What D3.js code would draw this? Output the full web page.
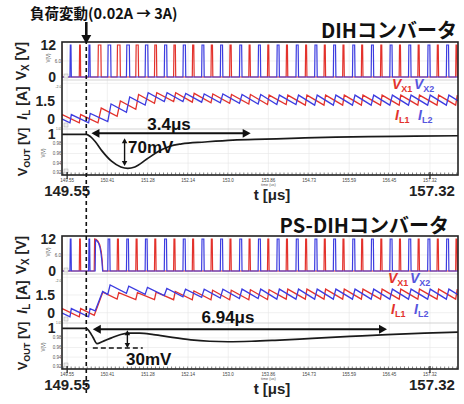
<!DOCTYPE html>
<html>
<head>
<meta charset="utf-8">
<script src="https://cdn.jsdelivr.net/npm/d3@7"></script>
<style>
  body { margin: 0; background: #fff; }
  text { font-family: "Liberation Sans", Arial, sans-serif; }
  .jp { font-family: "Noto Sans CJK JP", "Liberation Sans", sans-serif; }
</style>
</head>
<body>
<div id="container"></div>
<script>
const titles = ["DIHコンバータ", "PS-DIHコンバータ"];
const timeTicks = [149.55, 150.41, 151.28, 152.14, 153.0, 153.86, 154.73, 155.59, 156.45, 157.32];
const timeTickLabels = ["149.55", "150.41", "151.28", "152.14", "153.0", "153.86", "154.73", "155.59", "156.45", "157.32"];
const bigTimeTicks = [149.55, 157.32];
const loadStepT = 149.96;

// DIH, phase 1 (red) / phase 2 (blue): turn-on time, on-time, iL at turn-on, iL at turn-off
const dihRedOn = [149.41, 149.81, 150.21, 150.62, 151.02, 151.42, 151.83, 152.23, 152.63, 153.03, 153.44, 153.84, 154.24, 154.65, 155.05, 155.45, 155.85, 156.26, 156.66, 157.06, 157.47, 157.87];
const dihRedW  = [0.03, 0.03, 0.07, 0.07, 0.06, 0.05, 0.045, 0.04, 0.04, 0.04, 0.035, 0.035, 0.035, 0.035, 0.035, 0.035, 0.035, 0.035, 0.035, 0.035, 0.035, 0.035];
const dihRedLo = [-0.35, -0.35, -0.35, 0.2, 0.8, 1.3, 1.45, 1.4, 1.35, 1.3, 1.25, 1.2, 1.2, 1.15, 1.15, 1.15, 1.15, 1.15, 1.15, 1.15, 1.15, 1.15];
const dihRedHi = [0.35, 0.35, 0.9, 1.5, 2.05, 2.2, 2.2, 2.15, 2.1, 2.05, 2.05, 2.0, 2.0, 2.0, 2.0, 2.0, 2.0, 2.0, 2.0, 2.0, 2.0, 2.0];

const dihBlueOn = [149.21, 149.61, 150.01, 150.42, 150.82, 151.22, 151.63, 152.03, 152.43, 152.83, 153.24, 153.64, 154.04, 154.45, 154.85, 155.25, 155.66, 156.06, 156.46, 156.86, 157.27, 157.67, 158.07];
const dihBlueW  = [0.03, 0.03, 0.035, 0.07, 0.07, 0.065, 0.06, 0.06, 0.055, 0.055, 0.055, 0.055, 0.055, 0.055, 0.055, 0.055, 0.055, 0.055, 0.055, 0.055, 0.055, 0.055, 0.055];
const dihBlueLo = [-0.35, -0.35, -0.35, -0.25, 0.55, 1.15, 1.45, 1.45, 1.4, 1.35, 1.3, 1.25, 1.2, 1.2, 1.15, 1.15, 1.15, 1.15, 1.15, 1.15, 1.15, 1.15, 1.15];
const dihBlueHi = [0.35, 0.35, 0.45, 1.25, 1.85, 2.2, 2.2, 2.15, 2.1, 2.1, 2.05, 2.05, 2.0, 2.0, 2.0, 2.0, 2.0, 2.0, 2.0, 2.0, 2.0, 2.0, 2.0];

const dihVoutT = [149.44, 149.96, 150.05, 150.15, 150.3, 150.5, 150.7, 150.85, 151.0, 151.25, 151.5, 151.75, 152.0, 152.5, 153.1, 153.8, 154.5, 155.3, 156.0, 157.0, 157.92];
const dihVoutV = [1.0, 1.0, 0.995, 0.985, 0.965, 0.944, 0.932, 0.929, 0.932, 0.948, 0.964, 0.975, 0.98, 0.984, 0.988, 0.99, 0.992, 0.994, 0.995, 0.996, 0.997];

// PS-DIH
const psRedOn = [149.41, 149.81, 150.13, 150.62, 151.02, 151.42, 151.83, 152.23, 152.63, 153.03, 153.44, 153.84, 154.24, 154.65, 155.05, 155.45, 155.85, 156.26, 156.66, 157.06, 157.47, 157.87];
const psRedW  = [0.03, 0.03, 0.185, 0.035, 0.035, 0.035, 0.035, 0.035, 0.035, 0.035, 0.035, 0.035, 0.035, 0.035, 0.035, 0.035, 0.035, 0.035, 0.035, 0.035, 0.035, 0.035];
const psRedLo = [-0.35, -0.35, -0.22, 1.15, 1.1, 1.1, 1.1, 1.1, 1.1, 1.1, 1.1, 1.12, 1.15, 1.15, 1.15, 1.15, 1.15, 1.15, 1.15, 1.15, 1.15, 1.15];
const psRedHi = [0.35, 0.35, 1.75, 1.7, 1.7, 1.75, 1.8, 1.85, 1.9, 1.9, 1.95, 1.95, 2.0, 2.0, 2.0, 2.0, 2.0, 2.0, 2.0, 2.0, 2.0, 2.0];

const psBlueOn = [149.21, 149.61, 150.01, 150.15, 150.42, 150.82, 151.22, 151.63, 152.03, 152.43, 152.83, 153.24, 153.64, 154.04, 154.45, 154.85, 155.25, 155.66, 156.06, 156.46, 156.86, 157.27, 157.67, 158.07];
const psBlueW  = [0.03, 0.03, 0.03, 0.16, 0.05, 0.05, 0.05, 0.055, 0.055, 0.055, 0.055, 0.055, 0.055, 0.055, 0.055, 0.055, 0.055, 0.055, 0.055, 0.055, 0.055, 0.055, 0.055, 0.055];
const psBlueLo = [-0.35, -0.35, -0.35, 0.15, 1.55, 1.65, 1.55, 1.45, 1.35, 1.3, 1.25, 1.2, 1.2, 1.15, 1.15, 1.15, 1.15, 1.15, 1.15, 1.15, 1.15, 1.15, 1.15, 1.15];
const psBlueHi = [0.35, 0.35, 0.35, 1.8, 2.35, 2.25, 2.15, 2.05, 2.0, 2.0, 2.0, 2.0, 2.0, 2.0, 2.0, 2.0, 2.0, 2.0, 2.0, 2.0, 2.0, 2.0, 2.0, 2.0];

// the wide, drooping simultaneous pulse right after the load step
const psWideRedT  = [150.13, 150.138, 150.17, 150.21, 150.25, 150.28, 150.30, 150.315];
const psWideRedV  = [0, 12, 11.9, 11.2, 9.8, 7.4, 4.2, 0];
const psWideBlueT = [150.15, 150.158, 150.18, 150.22, 150.25, 150.275, 150.295, 150.31];
const psWideBlueV = [0, 11.6, 11.4, 10.6, 9.0, 6.6, 3.6, 0];

const psVoutT = [149.44, 149.96, 150.03, 150.1, 150.19, 150.3, 150.5, 150.7, 150.9, 151.1, 151.4, 151.8, 152.2, 152.6, 153.0, 153.5, 154.0, 154.8, 155.6, 156.4, 157.2, 157.92];
const psVoutV = [1.0, 1.0, 0.993, 0.982, 0.968, 0.972, 0.98, 0.987, 0.99, 0.99, 0.987, 0.981, 0.976, 0.973, 0.972, 0.973, 0.975, 0.979, 0.983, 0.987, 0.99, 0.992];

// annotations
const spanLabels = ["3.4μs", "6.94μs"];
const spanFrom = [150.07, 150.1];
const spanTo = [153.48, 156.4];
const spanV = [1.002, 0.998];
const dipLabels = ["70mV", "30mV"];
const dipT = [150.78, 150.84];
const dipTop = [0.992, 0.996];
const dipBottom = [0.934, 0.959];

const vxTicks = [12, 0];
const ilTicks = [1.5, 0];
const voutMinor = [1.01, 0.98, 0.96, 0.94, 0.92];

// ---- layout ----
const red = "#e3322c", blue = "#3c3ce0";
const tMin = 149.44, tMax = 157.92;
const panelOffset = [0, 194];
const frame = { left: 62, right: 458, top: 42, bottom: 175 };

const x = d3.scaleLinear().domain([tMin, tMax]).range([frame.left, frame.right]);
const yVx = d3.scaleLinear().domain([0, 12]).range([77, 45]);
const yIL = d3.scaleLinear().domain([0, 1.5]).range([118.7, 101]);
const yVo = d3.scaleLinear().domain([0.92, 1.0]).range([172.7, 134.3]);

const svg = d3.select("#container")
    .append("svg")
    .attr("width", 464)
    .attr("height", 404);

const defs = svg.append("defs");
defs.append("clipPath").attr("id", "clipFrame")
    .append("rect")
    .attr("x", frame.left).attr("y", frame.top)
    .attr("width", frame.right - frame.left).attr("height", frame.bottom - frame.top);

function vxPoints(on, w, wideT, wideV) {
    const pts = [[tMin - 1, 0]];
    on.forEach((t, i) => {
        if (w[i] >= 0.1 && wideT) {
            wideT.forEach((tt, j) => pts.push([tt, wideV[j]]));
        } else {
            pts.push([t, 0], [t + 0.008, 12], [t + w[i] - 0.008, 12], [t + w[i], 0]);
        }
    });
    pts.push([tMax + 1, 0]);
    return pts;
}

function ilPoints(on, w, lo, hi) {
    return on.flatMap((t, i) => [[t, lo[i]], [t + w[i], hi[i]]]);
}

const lineVx = d3.line().x(d => x(d[0])).y(d => yVx(d[1]));
const lineIL = d3.line().x(d => x(d[0])).y(d => yIL(d[1]));
const lineVo = d3.line().x(d => x(d[0])).y(d => yVo(d[1])).curve(d3.curveMonotoneX);

function arrowHead(g, x0, y0, dir, size) {
    // dir: "l", "r", "u", "d"
    const s = size, h = size * 0.55;
    let p;
    if (dir === "l") p = [[x0, y0], [x0 + s, y0 - h], [x0 + s, y0 + h]];
    if (dir === "r") p = [[x0, y0], [x0 - s, y0 - h], [x0 - s, y0 + h]];
    if (dir === "u") p = [[x0, y0], [x0 - h, y0 + s], [x0 + h, y0 + s]];
    if (dir === "d") p = [[x0, y0], [x0 - h, y0 - s], [x0 + h, y0 - s]];
    g.append("path").attr("d", "M" + p.join("L") + "Z").attr("fill", "#111");
}

function drawPanel(k, d) {
    const g = svg.append("g").attr("transform", `translate(0, ${panelOffset[k]})`);

    // grid
    const grid = g.append("g").attr("stroke", "#e6e6e6").attr("stroke-width", 0.6);
    timeTicks.forEach(t => grid.append("line")
        .attr("x1", x(t)).attr("x2", x(t)).attr("y1", frame.top).attr("y2", frame.bottom));
    [6].forEach(v => grid.append("line").attr("x1", frame.left).attr("x2", frame.right)
        .attr("y1", yVx(v)).attr("y2", yVx(v)));
    [3, 1.5, 0].forEach(v => grid.append("line").attr("x1", frame.left).attr("x2", frame.right)
        .attr("y1", yIL(v)).attr("y2", yIL(v)));
    [0.98, 0.96, 0.94].forEach(v => grid.append("line").attr("x1", frame.left).attr("x2", frame.right)
        .attr("y1", yVo(v)).attr("y2", yVo(v)));
    // sub-plot separators
    [80, 129].forEach(yy => g.append("line").attr("x1", frame.left).attr("x2", frame.right)
        .attr("y1", yy).attr("y2", yy).attr("stroke", "#c8c8c8").attr("stroke-width", 0.8));

    const plot = g.append("g").attr("clip-path", "url(#clipFrame)");

    // switching nodes
    plot.append("path").attr("d", lineVx(vxPoints(d.redOn, d.redW, d.wideRedT, d.wideRedV)))
        .attr("fill", "none").attr("stroke", red).attr("stroke-width", 1.2);
    plot.append("path").attr("d", lineVx(vxPoints(d.blueOn, d.blueW, d.wideBlueT, d.wideBlueV)))
        .attr("fill", "none").attr("stroke", blue).attr("stroke-width", 1.2);

    // inductor currents
    plot.append("path").attr("d", lineIL(ilPoints(d.redOn, d.redW, d.redLo, d.redHi)))
        .attr("fill", "none").attr("stroke", red).attr("stroke-width", 1.3);
    plot.append("path").attr("d", lineIL(ilPoints(d.blueOn, d.blueW, d.blueLo, d.blueHi)))
        .attr("fill", "none").attr("stroke", blue).attr("stroke-width", 1.3);

    // output voltage
    plot.append("path").attr("d", lineVo(d.voutT.map((t, i) => [t, d.voutV[i]])))
        .attr("fill", "none").attr("stroke", "#1a1a1a").attr("stroke-width", 1.7);

    // little scope markers
    [80, 129, 175].forEach(yy => g.append("rect")
        .attr("x", frame.left + 2).attr("y", yy - 6).attr("width", 4).attr("height", 4)
        .attr("fill", "#eee").attr("stroke", "#aaa").attr("stroke-width", 0.5));

    // frame
    g.append("rect")
        .attr("x", frame.left).attr("y", frame.top)
        .attr("width", frame.right - frame.left).attr("height", frame.bottom - frame.top)
        .attr("fill", "none").attr("stroke", "#222").attr("stroke-width", 1.6);

    // minor ticks along the time axis
    const step = (timeTicks[1] - timeTicks[0]) / 10;
    d3.range(timeTicks[0] - step, tMax, step).forEach(t => {
        if (x(t) > frame.left + 1 && x(t) < frame.right - 1)
            g.append("line").attr("x1", x(t)).attr("x2", x(t))
                .attr("y1", frame.bottom - 2.5).attr("y2", frame.bottom)
                .attr("stroke", "#333").attr("stroke-width", 0.6);
    });
    // tiny scope tick labels
    timeTicks.forEach((t, i) => g.append("text")
        .attr("x", x(t)).attr("y", frame.bottom + 6.5)
        .attr("text-anchor", "middle").attr("font-size", 4.5).attr("fill", "#444")
        .text(timeTickLabels[i]));
    g.append("text").attr("x", x(153.86)).attr("y", frame.bottom + 10.5)
        .attr("text-anchor", "middle").attr("font-size", 3.8).attr("fill", "#555").text("time (us)");

    // big time labels
    bigTimeTicks.forEach(t => {
        g.append("line").attr("x1", x(t)).attr("x2", x(t))
            .attr("y1", frame.bottom - 3).attr("y2", frame.bottom + 4)
            .attr("stroke", "#222").attr("stroke-width", 1.2);
        g.append("text").attr("x", x(t) + (t === bigTimeTicks[1] ? 2 : 0)).attr("y", frame.bottom + 21)
            .attr("text-anchor", "middle").attr("font-size", 15).attr("font-weight", "bold")
            .attr("fill", "#222").text(t.toFixed(2));
    });
    g.append("text").attr("x", 272).attr("y", frame.bottom + 24.5)
        .attr("text-anchor", "middle").attr("font-size", 15).attr("font-weight", "bold")
        .attr("fill", "#222").text("t [μs]");

    // y tick labels (big)
    vxTicks.forEach(v => g.append("text").attr("x", 56).attr("y", yVx(v) + 5)
        .attr("text-anchor", "end").attr("font-size", 14).attr("font-weight", "bold").attr("fill", "#222").text(v));
    ilTicks.forEach(v => g.append("text").attr("x", 55).attr("y", yIL(v) + 5)
        .attr("text-anchor", "end").attr("font-size", 14).attr("font-weight", "bold").attr("fill", "#222").text(v));
    g.append("text").attr("x", 55.5).attr("y", yVo(1.0) + 5)
        .attr("text-anchor", "end").attr("font-size", 14).attr("font-weight", "bold").attr("fill", "#222").text("1");

    // y tick labels (tiny, from the scope)
    g.append("text").attr("x", 61).attr("y", yVx(6) + 1.5)
        .attr("text-anchor", "end").attr("font-size", 4.5).attr("fill", "#555").text("6.0");
    g.append("text").attr("x", 61.5).attr("y", 88)
        .attr("text-anchor", "end").attr("font-size", 3.6).attr("fill", "#555").text("-2.0");
    voutMinor.forEach(v => g.append("text").attr("x", v > 1 ? 62 : 61.5).attr("y", v > 1 ? 129.5 : yVo(v) + 1.5)
        .attr("text-anchor", "end").attr("font-size", v > 1 ? 3.1 : 4.5).attr("fill", "#555").text(v.toFixed(2)));
    [[50, 58], [45, 153]].forEach(p => g.append("text")
        .attr("transform", `translate(${p[0]}, ${p[1]}) rotate(-90)`)
        .attr("text-anchor", "middle").attr("font-size", 4.5).attr("fill", "#555").text("V(V)"));

    // y axis titles
    const t1 = g.append("text").attr("transform", "translate(26, 61) rotate(-90)")
        .attr("text-anchor", "middle").attr("font-size", 14).attr("font-weight", "bold").attr("fill", "#222");
    t1.append("tspan").text("V");
    t1.append("tspan").attr("font-size", 10).attr("dy", 3).text("X");
    t1.append("tspan").attr("dy", -3).text(" [V]");

    const t2 = g.append("text").attr("transform", "translate(27, 103) rotate(-90)")
        .attr("text-anchor", "middle").attr("font-size", 14).attr("font-weight", "bold").attr("fill", "#222");
    t2.append("tspan").attr("font-style", "italic").text("I");
    t2.append("tspan").attr("font-size", 10).attr("dy", 3).text("L");
    t2.append("tspan").attr("dy", -3).text(" [A]");

    const t3 = g.append("text").attr("transform", "translate(27, 152) rotate(-90)")
        .attr("text-anchor", "middle").attr("font-size", 13).attr("font-weight", "bold").attr("fill", "#222");
    t3.append("tspan").text("V");
    t3.append("tspan").attr("font-size", 9).attr("dy", 3).text("OUT");
    t3.append("tspan").attr("dy", -3).text(" [V]");

    // legend labels
    const lx = d.legendX;
    [["V", "X1", red, lx, 89], ["V", "X2", "#5656de", lx + 22, 89],
     ["I", "L1", red, lx + 3, 120], ["I", "L2", "#5656de", lx + 26, 120]].forEach(l => {
        const tt = g.append("text").attr("x", l[3]).attr("y", l[4])
            .attr("font-size", 14).attr("font-weight", "bold").attr("fill", l[2]);
        tt.append("tspan").attr("font-style", "italic").text(l[0]);
        tt.append("tspan").attr("font-size", 9).attr("dy", 3).text(l[1]);
    });

    // title
    g.append("text").attr("class", "jp").attr("x", d.titleX).attr("y", d.titleY)
        .attr("text-anchor", "end").attr("font-size", 20).attr("font-weight", "bold")
        .attr("fill", "#111").text(titles[k]);

    // settling-time arrow
    const ya = yVo(spanV[k]);
    g.append("line").attr("x1", x(spanFrom[k]) + 6).attr("x2", x(spanTo[k]) - 6)
        .attr("y1", ya).attr("y2", ya).attr("stroke", "#111").attr("stroke-width", 2);
    arrowHead(g, x(spanFrom[k]), ya, "l", 8);
    arrowHead(g, x(spanTo[k]), ya, "r", 8);
    g.append("text").attr("x", d.spanLabelX).attr("y", d.spanLabelY)
        .attr("text-anchor", "middle").attr("font-size", 17).attr("font-weight", "bold")
        .attr("fill", "#111").text(spanLabels[k]);

    // undershoot arrow
    const xd = x(dipT[k]);
    g.append("line").attr("x1", xd).attr("x2", xd)
        .attr("y1", yVo(dipTop[k]) + 4).attr("y2", yVo(dipBottom[k]) - 4)
        .attr("stroke", "#111").attr("stroke-width", 1.4);
    arrowHead(g, xd, yVo(dipTop[k]), "u", 5);
    arrowHead(g, xd, yVo(dipBottom[k]), "d", 5);
    g.append("text").attr("x", d.dipLabelX).attr("y", d.dipLabelY)
        .attr("font-size", 17).attr("font-weight", "bold").attr("fill", "#111").text(dipLabels[k]);
    if (d.dashFrom) {
        g.append("line").attr("x1", x(d.dashFrom)).attr("x2", x(d.dashTo))
            .attr("y1", yVo(dipBottom[k])).attr("y2", yVo(dipBottom[k]))
            .attr("stroke", "#111").attr("stroke-width", 1.5).attr("stroke-dasharray", "5,3");
    }
}

drawPanel(0, {
    redOn: dihRedOn, redW: dihRedW, redLo: dihRedLo, redHi: dihRedHi,
    blueOn: dihBlueOn, blueW: dihBlueW, blueLo: dihBlueLo, blueHi: dihBlueHi,
    voutT: dihVoutT, voutV: dihVoutV,
    legendX: 392, titleX: 457, titleY: 38,
    spanLabelX: 169, spanLabelY: 130, dipLabelX: 128, dipLabelY: 153
});
drawPanel(1, {
    redOn: psRedOn, redW: psRedW, redLo: psRedLo, redHi: psRedHi,
    blueOn: psBlueOn, blueW: psBlueW, blueLo: psBlueLo, blueHi: psBlueHi,
    wideRedT: psWideRedT, wideRedV: psWideRedV, wideBlueT: psWideBlueT, wideBlueV: psWideBlueV,
    voutT: psVoutT, voutV: psVoutV,
    legendX: 388, titleX: 449, titleY: 39,
    spanLabelX: 228, spanLabelY: 129, dipLabelX: 126, dipLabelY: 171,
    dashFrom: 150.1, dashTo: 151.17
});

// load step marker
const xs = x(loadStepT);
svg.append("line").attr("x1", xs).attr("x2", xs).attr("y1", 40).attr("y2", 393)
    .attr("stroke", "#111").attr("stroke-width", 1.6).attr("stroke-dasharray", "4,3");
svg.append("line").attr("x1", xs).attr("x2", xs).attr("y1", 22).attr("y2", 36)
    .attr("stroke", "#111").attr("stroke-width", 2.6);
arrowHead(svg, xs, 44, "d", 9);
svg.append("text").attr("class", "jp").attr("x", 30).attr("y", 19)
    .attr("font-size", 14.5).attr("font-weight", "bold").attr("fill", "#111")
    .text("負荷変動(0.02A → 3A)");
</script>
</body>
</html>
